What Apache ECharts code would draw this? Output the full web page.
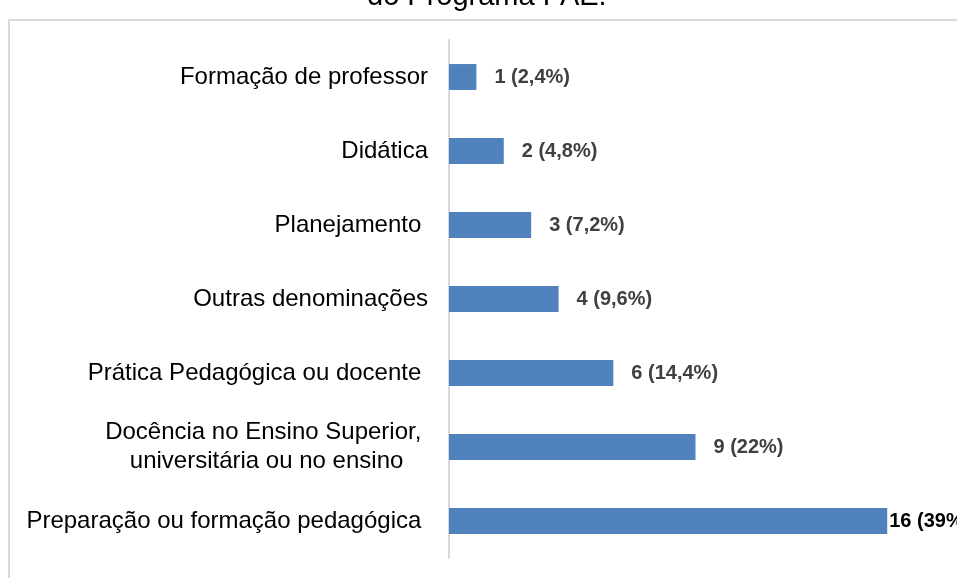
<!DOCTYPE html>
<html>
<head>
<meta charset="utf-8">
<script src="https://cdn.jsdelivr.net/npm/echarts@6/dist/echarts.min.js"></script>
<style>
  html, body { margin: 0; padding: 0; background: #fff; }
  #chart { width: 957px; height: 578px; }
</style>
</head>
<body>
<div id="chart"></div>
<script>
// categories from top to bottom
const categories = [
    'Formação de professor',
    'Didática',
    'Planejamento ',
    'Outras denominações',
    'Prática Pedagógica ou docente ',
    'Docência no Ensino Superior, \nuniversitária ou no ensino',
    'Preparação ou formação pedagógica '
];
const counts = [1, 2, 3, 4, 6, 9, 16];
const percentLabels = ['2,4%', '4,8%', '7,2%', '9,6%', '14,4%', '22%', '39%'];

document.addEventListener('DOMContentLoaded', function() {
    const chart = echarts.init(document.getElementById('chart'));

    const seriesData = counts.map(function(v, i) {
        const item = { value: v };
        if (i === counts.length - 1) {
            item.label = { distance: 2, color: '#000000' };
        }
        return item;
    });

    const option = {
        animation: false,
        title: {
            text: 'do Programa PAE.',
            left: 362,
            top: -23,
            textStyle: {
                fontFamily: 'Liberation Sans, Arial, sans-serif',
                fontSize: 29,
                fontWeight: 'normal',
                color: '#000000'
            }
        },
        graphic: [{
            type: 'rect',
            silent: true,
            shape: { x: 9, y: 20, width: 1000, height: 600 },
            style: { fill: 'none', stroke: '#d9d9d9', lineWidth: 2 }
        }],
        grid: {
            left: 449,
            top: 40,
            width: 493,
            height: 518
        },
        xAxis: {
            type: 'value',
            min: 0,
            max: 18,
            show: false
        },
        yAxis: {
            type: 'category',
            inverse: true,
            data: categories,
            axisLine: { lineStyle: { color: '#d9d9d9', width: 2 } },
            axisTick: { show: false },
            axisLabel: {
                margin: 21,
                fontFamily: 'Liberation Sans, Arial, sans-serif',
                fontSize: 24,
                color: '#000000',
                lineHeight: 29,
                formatter: function(value) {
                    return value.split('\n').map(function(line) {
                        return '{c|' + line + '}';
                    }).join('\n');
                },
                rich: {
                    c: {
                        align: 'center',
                        fontFamily: 'Liberation Sans, Arial, sans-serif',
                        fontSize: 24,
                        color: '#000000',
                        lineHeight: 29
                    }
                }
            }
        },
        series: [{
            type: 'bar',
            data: seriesData,
            barCategoryGap: '65%',
            itemStyle: { color: '#4f81bd' },
            label: {
                show: true,
                position: 'right',
                distance: 18,
                fontFamily: 'Liberation Sans, Arial, sans-serif',
                fontSize: 20,
                fontWeight: 'bold',
                color: '#404040',
                formatter: function(p) {
                    return counts[p.dataIndex] + ' (' + percentLabels[p.dataIndex] + ')';
                }
            }
        }]
    };
    chart.setOption(option);

    window.addEventListener('resize', function() {
        chart.resize();
    });
});
</script>
</body>
</html>
